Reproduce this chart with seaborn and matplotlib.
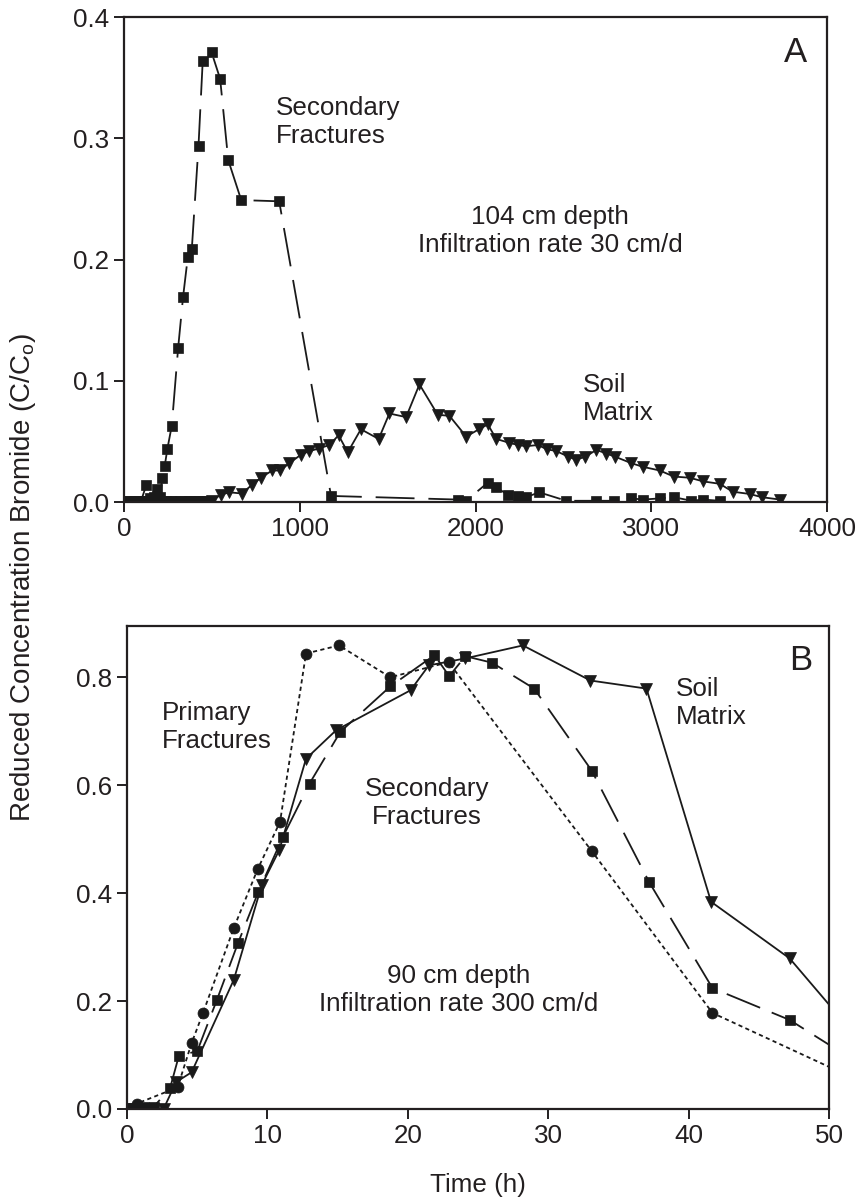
import numpy as np
import pandas as pd
import matplotlib
matplotlib.use("Agg")
import matplotlib.pyplot as plt
import seaborn as sns

# ---------------- data: panel A (104 cm depth, 30 cm/d) ----------------
a_sec_time = [0, 20, 45, 70, 95, 127, 150, 170, 190, 205, 218, 232, 247, 272, 308, 336,
              363, 386, 424, 448, 498, 547, 593, 667, 883, 1178, 1899, 1947, 2070, 2118,
              2184, 2241, 2289, 2362, 2517, 2687, 2786, 2887, 2953, 3052, 3128, 3229,
              3295, 3390]
a_sec_conc = [0, 0, 0, 0, 0, 0.014, 0.003, 0.004, 0.011, 0.004, 0.020, 0.030, 0.044,
              0.063, 0.127, 0.169, 0.202, 0.209, 0.294, 0.364, 0.371, 0.349, 0.282, 0.249,
              0.248, 0.005, 0.002, 0.001, 0.016, 0.012, 0.006, 0.005, 0.004, 0.008, 0.001,
              0.001, 0.001, 0.003, 0.002, 0.003, 0.004, 0.001, 0.002, 0.001]

a_soil_time = [10, 35, 60, 85, 110, 135, 160, 185, 210, 235, 260, 285, 325, 350, 375, 400,
               425, 450, 475, 500, 551, 600, 670, 727, 779, 843, 890, 940, 1007, 1054, 1107,
               1168, 1221, 1273, 1348, 1449, 1510, 1605, 1681, 1785, 1852, 1947, 2020, 2070,
               2118, 2188, 2241, 2287, 2355, 2406, 2460, 2526, 2570, 2621, 2688, 2744, 2792,
               2887, 2953, 3048, 3128, 3219, 3295, 3390, 3463, 3561, 3628, 3732]
a_soil_conc = [0, 0, 0, 0, 0, 0, 0, 0, 0, 0, 0, 0, 0, 0, 0, 0, 0, 0, 0, 0.001,
               0.006, 0.008, 0.007, 0.014, 0.020, 0.026, 0.026, 0.032, 0.039, 0.042, 0.044,
               0.047, 0.055, 0.041, 0.060, 0.052, 0.073, 0.070, 0.097, 0.072, 0.071, 0.054,
               0.060, 0.064, 0.052, 0.049, 0.047, 0.046, 0.047, 0.0435, 0.042, 0.0375, 0.035,
               0.037, 0.043, 0.040, 0.0375, 0.032, 0.029, 0.026, 0.021, 0.020, 0.017, 0.015,
               0.0085, 0.0066, 0.004, 0.002]

# ---------------- data: panel B (90 cm depth, 300 cm/d) ----------------
b_prim_time = [0, 0.7, 3.6, 4.6, 5.4, 7.6, 9.3, 10.9, 12.75, 15.1, 18.75, 22.9, 33.1, 41.7, 53]
b_prim_conc = [0, 0.010, 0.040, 0.122, 0.177, 0.335, 0.444, 0.532, 0.844, 0.859, 0.800,
               0.828, 0.478, 0.178, 0.042]

b_sec_time = [0, 0.6, 1.2, 1.9, 3.06, 3.7, 5.0, 6.4, 7.9, 9.35, 11.1, 13.0, 15.2, 18.75,
              21.9, 22.95, 24.1, 26.0, 29.0, 33.1, 37.2, 41.7, 47.2, 53]
b_sec_conc = [0, 0, 0.003, 0.004, 0.038, 0.099, 0.107, 0.202, 0.307, 0.402, 0.504, 0.603,
              0.699, 0.783, 0.841, 0.802, 0.839, 0.827, 0.779, 0.627, 0.420, 0.224, 0.165,
              0.070]

b_soil_time = [0, 0.5, 1.5, 2.6, 3.5, 4.6, 7.6, 9.6, 10.85, 12.75, 14.9, 20.2, 21.5, 24.1,
               28.2, 33.0, 37.0, 41.6, 47.2, 53]
b_soil_conc = [0, 0, 0, 0, 0.050, 0.068, 0.239, 0.415, 0.480, 0.649, 0.702, 0.776, 0.822,
               0.835, 0.859, 0.794, 0.779, 0.384, 0.279, 0.102]

a_xticks = [0, 1000, 2000, 3000, 4000]
a_yticks = [0.0, 0.1, 0.2, 0.3, 0.4]
b_xticks = [0, 10, 20, 30, 40, 50]
b_yticks = [0.0, 0.2, 0.4, 0.6, 0.8]

# ---------------- style ----------------
sns.set_theme(style="ticks")
plt.rcParams['font.family'] = ['Liberation Sans', 'DejaVu Sans']
plt.rcParams['mathtext.fontset'] = 'custom'
plt.rcParams['mathtext.rm'] = 'Liberation Sans'
plt.rcParams['mathtext.it'] = 'Liberation Sans'
plt.rcParams['lines.scale_dashes'] = False
TXT = '#231f20'
FS = 18.7

W, H = 859, 1202
fig = plt.figure(figsize=(W / 100, H / 100), dpi=100)


def px_axes(l, t, r, b):
    return [l / W, 1 - b / H, (r - l) / W, (b - t) / H]


axA = fig.add_axes(px_axes(124, 17, 827, 502))
axB = fig.add_axes(px_axes(127, 626, 829, 1109))

LW = 1.3
long_dash = (0, (26, 9))
dotted = (0, (3, 2.4))


def draw(ax, t, c, marker, ms, ls, clip=True):
    df = pd.DataFrame({"t": t, "c": c})
    sns.lineplot(data=df, x="t", y="c", ax=ax, color='k', marker=marker, markersize=ms,
                 markeredgecolor='k', markeredgewidth=0.5, linestyle=ls, linewidth=LW,
                 estimator=None, sort=False, clip_on=clip, legend=False)


# Panel A
draw(axA, a_soil_time, a_soil_conc, 'v', 8.8, '-')
draw(axA, a_sec_time, a_sec_conc, 's', 6.8, (0, (28, 10)))
axA.set_xlim(0, 4000)
axA.set_ylim(0, 0.4)
axA.set_xticks(a_xticks)
axA.set_yticks(a_yticks)
axA.set_yticklabels([f"{v:.1f}" for v in a_yticks])

# Panel B
draw(axB, b_prim_time, b_prim_conc, 'o', 7.9, dotted)
draw(axB, b_sec_time, b_sec_conc, 's', 7.2, long_dash)
draw(axB, b_soil_time, b_soil_conc, 'v', 8.8, '-')
axB.set_xlim(0, 50)
axB.set_ylim(0, 0.895)
axB.set_xticks(b_xticks)
axB.set_yticks(b_yticks)
axB.set_yticklabels([f"{v:.1f}" for v in b_yticks])

for ax in (axA, axB):
    ax.set_xlabel("")
    ax.set_ylabel("")
    for s in ax.spines.values():
        s.set_visible(True)
        s.set_linewidth(1.6)
        s.set_color(TXT)
    ax.tick_params(axis='both', which='major', direction='out', length=7, width=1.4,
                   color=TXT, labelcolor=TXT, labelsize=FS, pad=3.5,
                   top=False, right=False)


def ftext(x, y, s, **kw):
    kw.setdefault('fontsize', FS)
    kw.setdefault('color', TXT)
    fig.text(x / W, 1 - y / H, s, **kw)


# Panel A annotations
ftext(276, 122, "Secondary\nFractures", ha='left', va='center', linespacing=1.2)
ftext(550, 231, "104 cm depth\nInfiltration rate 30 cm/d", ha='center', va='center',
      multialignment='center', linespacing=1.2)
ftext(583, 399, "Soil\nMatrix", ha='left', va='center', linespacing=1.2)
ftext(796, 52, "A", ha='center', va='center', fontsize=25)

# Panel B annotations
ftext(162, 727, "Primary\nFractures", ha='left', va='center', linespacing=1.2)
ftext(427, 803, "Secondary\nFractures", ha='center', va='center',
      multialignment='center', linespacing=1.2)
ftext(676, 703, "Soil\nMatrix", ha='left', va='center', linespacing=1.2)
ftext(459, 990, "90 cm depth\nInfiltration rate 300 cm/d", ha='center', va='center',
      multialignment='center', linespacing=1.2)
ftext(801, 660, "B", ha='center', va='center', fontsize=25)

# axis labels
ftext(23, 578, r"Reduced Concentration Bromide (C/C$_{\mathrm{o}}$)", ha='center',
      va='center', rotation=90, fontsize=20)
ftext(478, 1185, "Time (h)", ha='center', va='center')

fig.savefig("out.png", dpi=100)
